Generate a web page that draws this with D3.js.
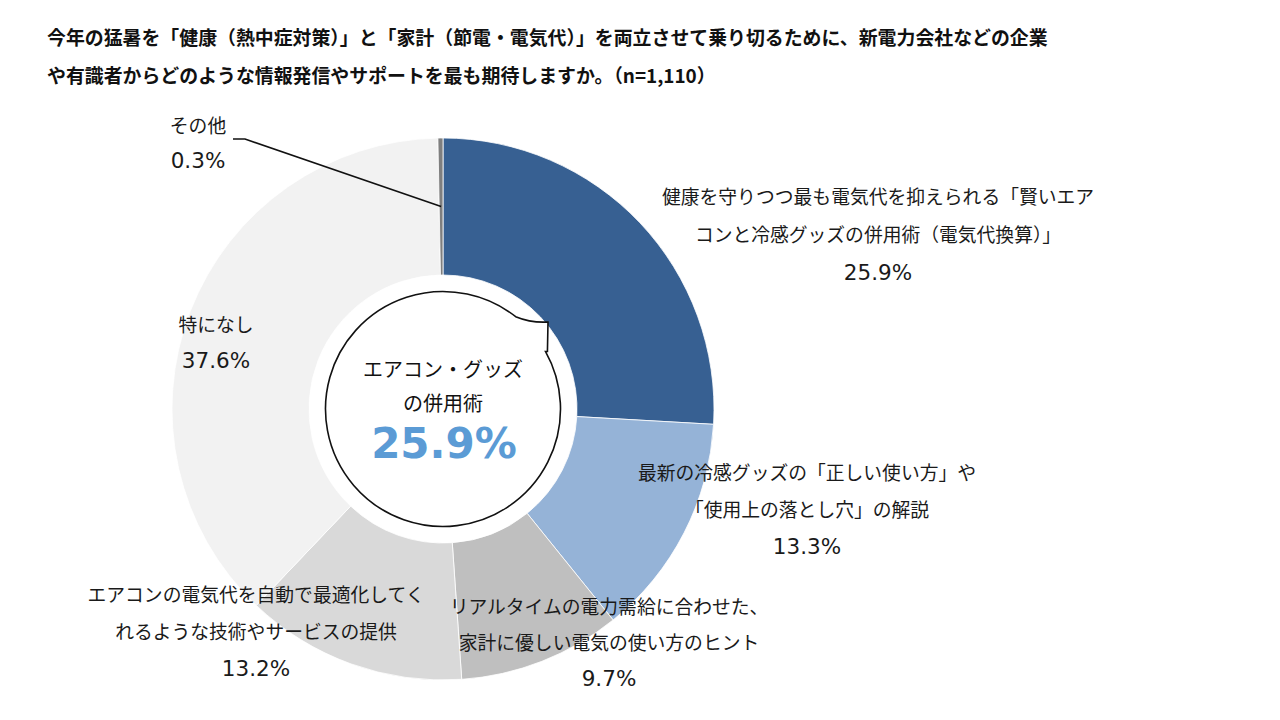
<!DOCTYPE html>
<html>
<head>
  <meta charset="utf-8">
  <script src="https://cdn.jsdelivr.net/npm/d3@7"></script>
  <style>
    body { margin: 0; background: #fff; }
    svg { display: block; }
  </style>
</head>
<body>
<script type="text/javascript">
  "use strict";

  // data
  var categories = ["賢いエアコンと冷感グッズの併用術", "冷感グッズの正しい使い方",
                    "電気の使い方のヒント", "電気代自動最適化の技術・サービス",
                    "特になし", "その他"];
  var values = [25.9, 13.3, 9.7, 13.2, 37.6, 0.3];
  var colors = ["#376092", "#95b3d7", "#bfbfbf", "#d9d9d9", "#f2f2f2", "#7f7f7f"];

  // label text (one array entry per line)
  var labelLines = [
    ["健康を守りつつ最も電気代を抑えられる「賢いエア", "コンと冷感グッズの併用術（電気代換算）」"],
    ["最新の冷感グッズの「正しい使い方」や", "「使用上の落とし穴」の解説"],
    ["リアルタイムの電力需給に合わせた、", "家計に優しい電気の使い方のヒント"],
    ["エアコンの電気代を自動で最適化してく", "れるような技術やサービスの提供"],
    ["特になし"],
    ["その他"]
  ];
  var titleLines = [
    "今年の猛暑を「健康（熱中症対策）」と「家計（節電・電気代）」を両立させて乗り切るために、新電力会社などの企業",
    "や有識者からどのような情報発信やサポートを最も期待しますか。（n=1,110）"
  ];

  var width = 1280, height = 720;
  var cx = 443, cy = 409, rOuter = 271, rInner = 134;
  var jp = "'Noto Sans CJK JP', sans-serif";
  var num = "'DejaVu Sans', 'Noto Sans CJK JP', sans-serif";

  var svg = d3.select("body").append("svg")
    .attr("width", width)
    .attr("height", height);

  /* title */
  svg.selectAll("text.title")
    .data(titleLines)
    .enter()
    .append("text")
      .attr("class", "title")
      .attr("x", 47)
      .attr("y", function (d, i) { return 36 + i * 38; })
      .attr("dominant-baseline", "central")
      .style("font-family", jp)
      .style("font-weight", "bold")
      .style("font-size", "18.9px")
      .style("fill", "#111")
      .text(function (d) { return d; });

  /* donut */
  var pie = d3.pie().sort(null).value(function (d) { return d; });
  var arcs = pie(values);
  var arc = d3.arc().innerRadius(rInner).outerRadius(rOuter);
  var midArc = d3.arc().innerRadius((rInner + rOuter) / 2).outerRadius((rInner + rOuter) / 2);

  var chart = svg.append("g").attr("transform", "translate(" + cx + "," + cy + ")");

  chart.selectAll("path.slice")
    .data(arcs)
    .enter()
    .append("path")
      .attr("class", "slice")
      .attr("d", arc)
      .style("fill", function (d, i) { return colors[i]; })
      .style("stroke", "#fff")
      .style("stroke-width", 0.8);

  /* speech bubble in the hole */
  var rb = 117.5;
  var a1 = Math.atan2(-94, 74), a2 = Math.atan2(-59, 105);
  var tip = [105, -87];
  var b1 = [rb * Math.cos(a1), rb * Math.sin(a1)];
  var b2 = [rb * Math.cos(a2), rb * Math.sin(a2)];
  var bubble = d3.path();
  bubble.moveTo(b1[0], b1[1]);
  bubble.quadraticCurveTo(88, -86, tip[0], tip[1]);
  bubble.lineTo(b2[0] + 2, b2[1]);
  bubble.arc(0, 0, rb, a2, a1 + 2 * Math.PI, false);
  bubble.closePath();
  chart.append("path")
    .attr("d", bubble.toString())
    .style("fill", "#fff")
    .style("stroke", "#111")
    .style("stroke-width", 1.6);

  chart.selectAll("text.bubble")
    .data(["エアコン・グッズ", "の併用術"])
    .enter()
    .append("text")
      .attr("class", "bubble")
      .attr("x", 0)
      .attr("y", function (d, i) { return -41 + i * 34; })
      .attr("text-anchor", "middle")
      .attr("dominant-baseline", "central")
      .style("font-family", jp)
      .style("font-size", "20px")
      .style("fill", "#111")
      .text(function (d) { return d; });

  chart.append("text")
    .attr("x", 1)
    .attr("y", 49)
    .attr("text-anchor", "middle")
    .style("font-family", num)
    .style("font-weight", "bold")
    .style("font-size", "42px")
    .style("fill", "#5b9bd5")
    .text(d3.format(".1f")(values[0]) + "%");

  /* leader line for その他 */
  var c = midArc.centroid(arcs[5]);
  svg.append("polyline")
    .attr("points", [[233, 139], [245, 139], [cx + c[0], cy + c[1]]].join(" "))
    .style("fill", "none")
    .style("stroke", "#111")
    .style("stroke-width", 1.6);

  /* data labels */
  var labelPos = [
    { x: 878, y: 195, gap: 38.5 },
    { x: 807, y: 471, gap: 37.5 },
    { x: 609, y: 605, gap: 36.5 },
    { x: 256, y: 593, gap: 37.5 },
    { x: 216, y: 323, gap: 37 },
    { x: 198, y: 124, gap: 36 }
  ];

  var labels = svg.selectAll("g.label")
    .data(arcs)
    .enter()
    .append("g")
      .attr("class", "label");

  labels.each(function (d, i) {
    var g = d3.select(this), p = labelPos[i];
    var lines = labelLines[i];
    lines.forEach(function (t, k) {
      g.append("text")
        .attr("x", p.x)
        .attr("y", p.y + k * p.gap)
        .attr("text-anchor", "middle")
        .attr("dominant-baseline", "central")
        .style("font-family", jp)
        .style("font-size", "18.8px")
        .style("fill", "#1a1a1a")
        .text(t);
    });
    g.append("text")
      .attr("x", p.x)
      .attr("y", p.y + lines.length * p.gap)
      .attr("text-anchor", "middle")
      .attr("dominant-baseline", "central")
      .style("font-family", num)
      .style("font-size", "21.5px")
      .style("fill", "#1a1a1a")
      .text(d3.format(".1f")(d.data) + "%");
  });
</script>
</body>
</html>
